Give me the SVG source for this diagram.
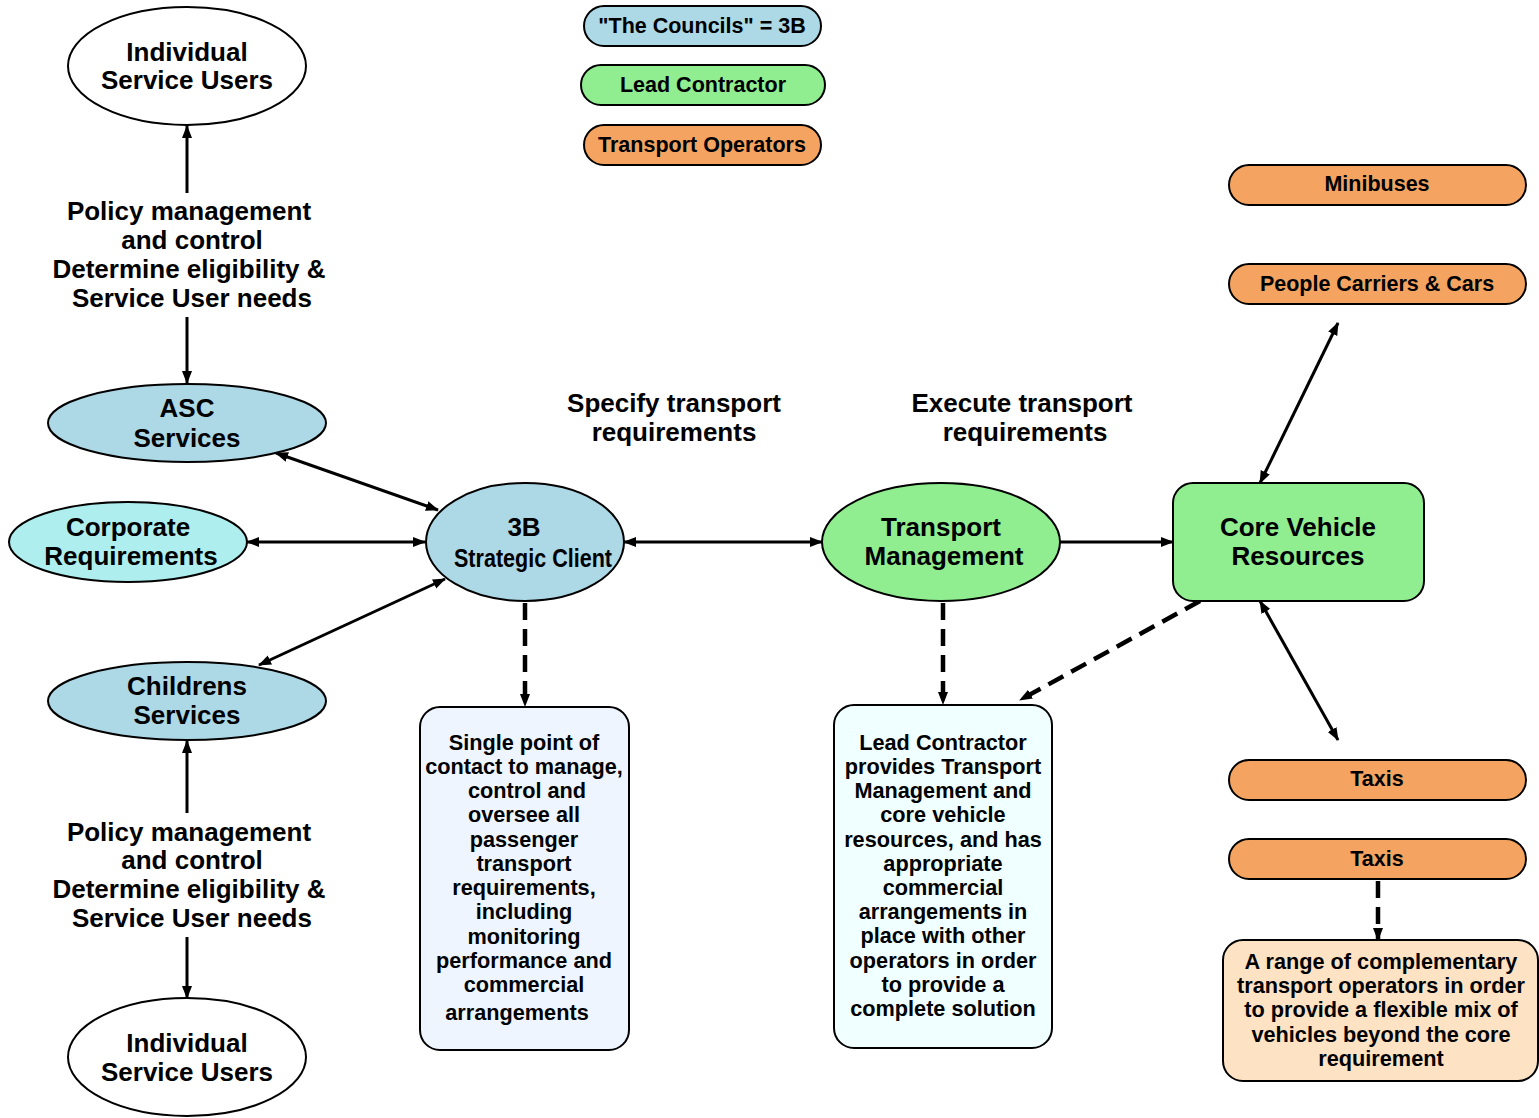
<svg xmlns="http://www.w3.org/2000/svg" width="1539" height="1118" viewBox="0 0 1539 1118">
<style>
text{font-family:"Liberation Sans",Arial,sans-serif;font-weight:bold;fill:#000;text-anchor:middle}
.big{font-size:26px}
.mid{font-size:21.5px}
.sm{font-size:21.7px}
.shape{stroke:#000;stroke-width:2}
.blue{fill:#ADD8E6}
.cyan{fill:#AFEEEE}
.green{fill:#90EE90}
.orange{fill:#F4A460}
.white{fill:#fff}
.con{stroke:#000;stroke-width:3;fill:none}
.dash{stroke:#000;stroke-width:4.5;fill:none;stroke-dasharray:17 9}
</style>
<defs>
<marker id="ah" markerUnits="userSpaceOnUse" markerWidth="14" markerHeight="12" refX="12" refY="6" orient="auto-start-reverse" viewBox="0 0 14 12">
<path d="M0,1 L13,6 L0,11 Z" fill="#000"/>
</marker>
</defs>
<rect width="1539" height="1118" fill="#fff"/>

<g id="connectors">
<line class="con" x1="187" y1="193" x2="187" y2="126" marker-end="url(#ah)"/>
<line class="con" x1="187" y1="317" x2="187" y2="383" marker-end="url(#ah)"/>
<line class="con" x1="276" y1="453" x2="438" y2="510" marker-start="url(#ah)" marker-end="url(#ah)"/>
<line class="con" x1="247" y1="542" x2="425" y2="542" marker-start="url(#ah)" marker-end="url(#ah)"/>
<line class="con" x1="259" y1="665" x2="445" y2="579" marker-start="url(#ah)" marker-end="url(#ah)"/>
<line class="con" x1="187" y1="813" x2="187" y2="741" marker-end="url(#ah)"/>
<line class="con" x1="187" y1="937" x2="187" y2="998" marker-end="url(#ah)"/>
<line class="con" x1="624" y1="542" x2="822" y2="542" marker-start="url(#ah)" marker-end="url(#ah)"/>
<line class="con" x1="1060" y1="542" x2="1173" y2="542" stroke-width="2" marker-end="url(#ah)"/>
<line class="dash" x1="525" y1="603" x2="525" y2="706" marker-end="url(#ah)"/>
<line class="dash" x1="943" y1="603" x2="943" y2="704" marker-end="url(#ah)"/>
<line class="dash" x1="1200" y1="601" x2="1020" y2="700" marker-end="url(#ah)"/>
<line class="con" x1="1260" y1="483" x2="1338" y2="323" marker-start="url(#ah)" marker-end="url(#ah)"/>
<line class="con" x1="1260" y1="601" x2="1338" y2="740" marker-start="url(#ah)" marker-end="url(#ah)"/>
<line class="dash" x1="1378" y1="881" x2="1378" y2="940" marker-end="url(#ah)"/>
</g>

<g id="legend-councils">
<rect class="shape blue" x="584" y="6" width="237" height="40" rx="20"/>
<text class="mid" x="702" y="33">"The Councils" = 3B</text>
</g>
<g id="legend-lead">
<rect class="shape green" x="581" y="65" width="244" height="40" rx="20"/>
<text class="mid" x="703" y="92">Lead Contractor</text>
</g>
<g id="legend-operators">
<rect class="shape orange" x="584" y="125" width="237" height="40" rx="20"/>
<text class="mid" x="702" y="152">Transport Operators</text>
</g>

<g id="users-top">
<ellipse class="shape white" cx="187" cy="66" rx="119" ry="59"/>
<text class="big" x="187" y="61">Individual</text>
<text class="big" x="187" y="89">Service Users</text>
</g>
<g id="label-policy-top">
<text class="big" x="189" y="220">Policy management</text>
<text class="big" x="192" y="249">and control</text>
<text class="big" x="189" y="278">Determine eligibility &amp;</text>
<text class="big" x="192" y="307">Service User needs</text>
</g>
<g id="asc">
<ellipse class="shape blue" cx="187" cy="423" rx="139" ry="39"/>
<text class="big" x="187" y="417">ASC</text>
<text class="big" x="187" y="447">Services</text>
</g>
<g id="corporate">
<ellipse class="shape cyan" cx="128" cy="542" rx="119" ry="40"/>
<text class="big" x="128" y="536">Corporate</text>
<text class="big" x="131" y="565">Requirements</text>
</g>
<g id="childrens">
<ellipse class="shape blue" cx="187" cy="701" rx="139" ry="39"/>
<text class="big" x="187" y="695">Childrens</text>
<text class="big" x="187" y="724">Services</text>
</g>
<g id="label-policy-bottom">
<text class="big" x="189" y="841">Policy management</text>
<text class="big" x="192" y="869">and control</text>
<text class="big" x="189" y="898">Determine eligibility &amp;</text>
<text class="big" x="192" y="927">Service User needs</text>
</g>
<g id="users-bottom">
<ellipse class="shape white" cx="187" cy="1057" rx="119" ry="59"/>
<text class="big" x="187" y="1052">Individual</text>
<text class="big" x="187" y="1081">Service Users</text>
</g>

<g id="strategic-client">
<ellipse class="shape blue" cx="525" cy="542" rx="99" ry="59"/>
<text class="big" x="524" y="536">3B</text>
<text class="big" x="533" y="567" textLength="158" lengthAdjust="spacingAndGlyphs">Strategic Client</text>
</g>
<g id="label-specify">
<text class="big" x="674" y="412">Specify transport</text>
<text class="big" x="674" y="441">requirements</text>
</g>
<g id="label-execute">
<text class="big" x="1022" y="412">Execute transport</text>
<text class="big" x="1025" y="441">requirements</text>
</g>
<g id="transport-management">
<ellipse class="shape green" cx="941" cy="542" rx="119" ry="59"/>
<text class="big" x="941" y="536">Transport</text>
<text class="big" x="944" y="565">Management</text>
</g>
<g id="core-vehicle">
<rect class="shape green" x="1173" y="483" width="251" height="118" rx="20"/>
<text class="big" x="1298" y="536">Core Vehicle</text>
<text class="big" x="1298" y="565">Resources</text>
</g>

<g id="minibuses">
<rect class="shape orange" x="1229" y="165" width="297" height="40" rx="20"/>
<text class="mid" x="1377" y="191">Minibuses</text>
</g>
<g id="people-carriers">
<rect class="shape orange" x="1229" y="264" width="297" height="40" rx="20"/>
<text class="mid" x="1377" y="291">People Carriers &amp; Cars</text>
</g>
<g id="taxis-1">
<rect class="shape orange" x="1229" y="760" width="297" height="40" rx="20"/>
<text class="mid" x="1377" y="786">Taxis</text>
</g>
<g id="taxis-2">
<rect class="shape orange" x="1229" y="839" width="297" height="40" rx="20"/>
<text class="mid" x="1377" y="866">Taxis</text>
</g>

<g id="box-client">
<rect class="shape" fill="#EEF5FF" x="420" y="707" width="209" height="343" rx="20"/>
<text class="sm" x="524" y="750">Single point of</text>
<text class="sm" x="524" y="774">contact to manage,</text>
<text class="sm" x="527" y="798">control and</text>
<text class="sm" x="524" y="822">oversee all</text>
<text class="sm" x="524" y="847">passenger</text>
<text class="sm" x="524" y="871">transport</text>
<text class="sm" x="524" y="895">requirements,</text>
<text class="sm" x="524" y="919">including</text>
<text class="sm" x="524" y="944">monitoring</text>
<text class="sm" x="524" y="968">performance and</text>
<text class="sm" x="524" y="992">commercial</text>
<text class="sm" x="517" y="1020">arrangements</text>
</g>
<g id="box-lead">
<rect class="shape" fill="#F0FFFF" x="834" y="705" width="218" height="343" rx="20"/>
<text class="sm" x="943" y="750">Lead Contractor</text>
<text class="sm" x="943" y="774">provides Transport</text>
<text class="sm" x="943" y="798">Management and</text>
<text class="sm" x="943" y="822">core vehicle</text>
<text class="sm" x="943" y="847">resources, and has</text>
<text class="sm" x="943" y="871">appropriate</text>
<text class="sm" x="943" y="895">commercial</text>
<text class="sm" x="943" y="919">arrangements in</text>
<text class="sm" x="943" y="943">place with other</text>
<text class="sm" x="943" y="968">operators in order</text>
<text class="sm" x="943" y="992">to provide a</text>
<text class="sm" x="943" y="1016">complete solution</text>
</g>
<g id="box-operators">
<rect class="shape" fill="#FDE3C4" x="1223" y="940" width="315" height="141" rx="20"/>
<text class="sm" x="1381" y="969">A range of complementary</text>
<text class="sm" x="1381" y="993">transport operators in order</text>
<text class="sm" x="1381" y="1017">to provide a flexible mix of</text>
<text class="sm" x="1381" y="1042">vehicles beyond the core</text>
<text class="sm" x="1381" y="1066">requirement</text>
</g>
</svg>
